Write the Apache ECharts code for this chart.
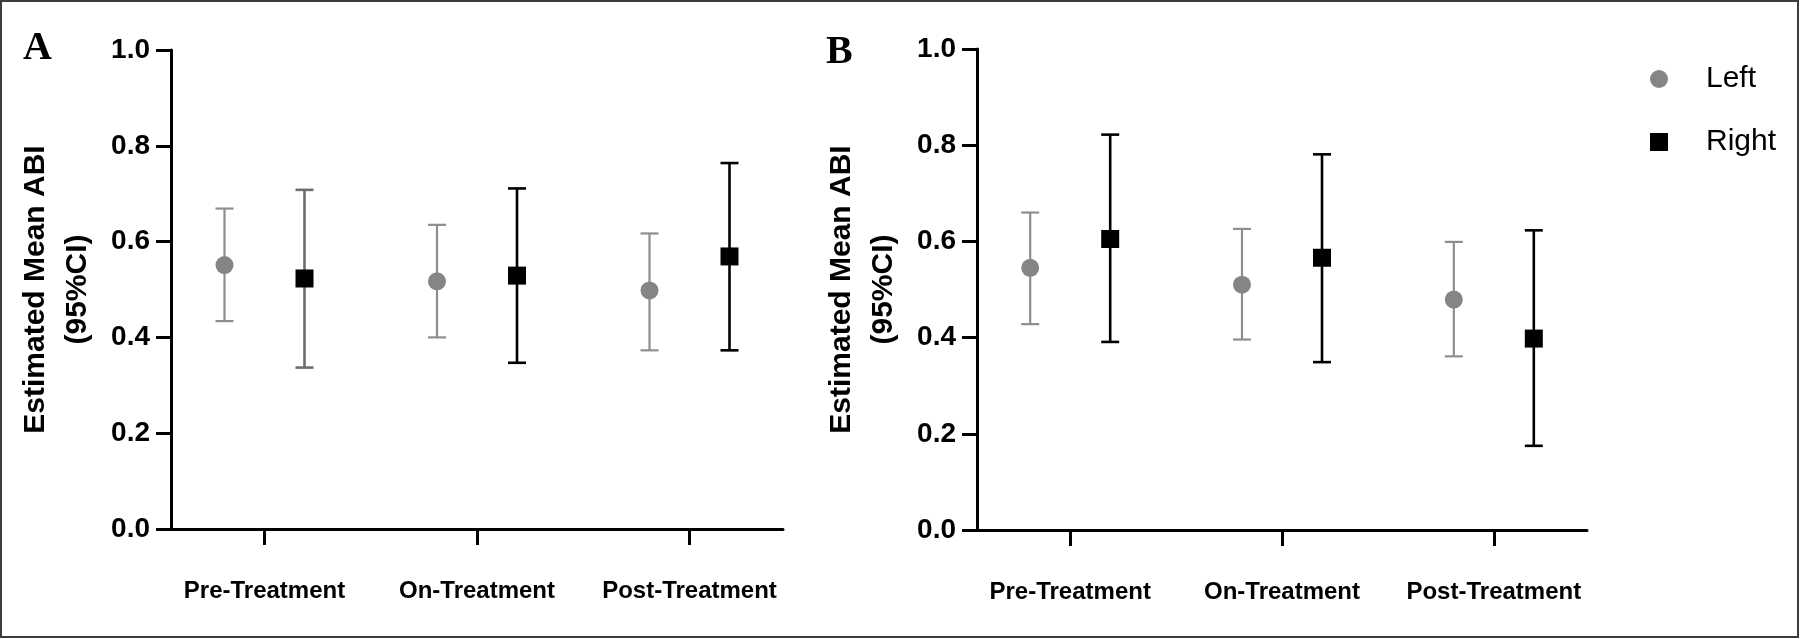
<!DOCTYPE html>
<html>
<head>
<meta charset="utf-8">
<script src="https://cdn.jsdelivr.net/npm/echarts@6/dist/echarts.min.js"></script>
<style>
html,body{margin:0;padding:0;background:#fff;}
#chart{width:1800px;height:639px;}
</style>
</head>
<body>
<div id="chart"></div>
<script>
// ---- data ----
const categories = ['Pre-Treatment', 'On-Treatment', 'Post-Treatment'];
const yTicks = [0, 0.2, 0.4, 0.6, 0.8, 1.0];
// Panel A: mean, lower 95% CI, upper 95% CI
const A_left_mean  = [0.551, 0.517, 0.498];
const A_left_low   = [0.434, 0.400, 0.373];
const A_left_high  = [0.669, 0.635, 0.617];
const A_right_mean = [0.523, 0.529, 0.569];
const A_right_low  = [0.337, 0.347, 0.373];
const A_right_high = [0.708, 0.711, 0.764];
// Panel B
const B_left_mean  = [0.545, 0.510, 0.479];
const B_left_low   = [0.428, 0.396, 0.361];
const B_left_high  = [0.660, 0.626, 0.599];
const B_right_mean = [0.605, 0.566, 0.398];
const B_right_low  = [0.391, 0.349, 0.175];
const B_right_high = [0.822, 0.781, 0.623];

// ---- styles ----
const GREY = '#858585';
const GREY_BAR = '#8e8e8e';
const BLACK = '#000';
const A_RIGHT_BAR_COLORS = ['#6e6e6e', '#000', '#000'];
const B_RIGHT_BAR_COLORS = ['#000', '#000', '#000'];
const DODGE = 40; // px offset of each group from category centre
const FONT = '"Liberation Sans", Arial, Helvetica, sans-serif';

function rows(mean, low, high) {
  return mean.map((m, i) => [i, m, low[i], high[i]]);
}

function makeRender(offset, shape, markerColor, barColors, barWidth) {
  return function (params, api) {
    const i = api.value(0);
    const c = api.coord([i, api.value(1)]);
    const lo = api.coord([i, api.value(2)]);
    const hi = api.coord([i, api.value(3)]);
    const x = c[0] + offset;
    const bc = barColors[params.dataIndex];
    const capHalf = 9;
    const lineStyle = { stroke: bc, lineWidth: barWidth };
    const children = [
      { type: 'line', shape: { x1: x, y1: lo[1], x2: x, y2: hi[1] }, style: lineStyle },
      { type: 'line', shape: { x1: x - capHalf, y1: lo[1], x2: x + capHalf, y2: lo[1] }, style: lineStyle },
      { type: 'line', shape: { x1: x - capHalf, y1: hi[1], x2: x + capHalf, y2: hi[1] }, style: lineStyle }
    ];
    if (shape === 'circle') {
      children.push({ type: 'circle', shape: { cx: x, cy: c[1], r: 9 }, style: { fill: markerColor } });
    } else {
      children.push({ type: 'rect', shape: { x: x - 9, y: c[1] - 9, width: 18, height: 18 }, style: { fill: markerColor } });
    }
    return { type: 'group', children: children };
  };
}

const grids = [
  { left: 171, top: 50, width: 612, height: 479 },
  { left: 977, top: 49, width: 610, height: 481 }
];

function xAxisFor(gi) {
  return {
    type: 'value', gridIndex: gi, min: -0.44, max: 2.44,
    splitLine: { show: false },
    axisLine: { show: true, onZero: false, lineStyle: { color: BLACK, width: 3 } },
    axisTick: { show: true, customValues: [0, 1, 2], length: 16, lineStyle: { color: BLACK, width: 3 } },
    axisLabel: {
      customValues: [0, 1, 2],
      formatter: v => categories[Math.round(v)],
      margin: 50, color: BLACK, fontSize: 24, fontWeight: 'bold', fontFamily: FONT
    }
  };
}
function yAxisFor(gi) {
  return {
    type: 'value', gridIndex: gi, min: yTicks[0], max: yTicks[yTicks.length - 1], interval: 0.2,
    name: 'Estimated Mean ABI\n(95%CI)', nameLocation: 'middle', nameRotate: 90, nameGap: 72,
    nameTextStyle: { color: BLACK, fontSize: 30, fontWeight: 'bold', lineHeight: 42, fontFamily: FONT },
    splitLine: { show: false },
    axisLine: { show: true, onZero: false, lineStyle: { color: BLACK, width: 3 } },
    axisTick: { show: true, length: 15, lineStyle: { color: BLACK, width: 3 } },
    axisLabel: {
      formatter: v => v.toFixed(1), margin: 21, color: BLACK, fontSize: 28, fontWeight: 'bold', fontFamily: FONT
    }
  };
}

function seriesFor(gi, leftRows, rightRows, rightBarColors) {
  return [
    {
      name: 'Left', type: 'custom', xAxisIndex: gi, yAxisIndex: gi,
      itemStyle: { color: GREY },
      renderItem: makeRender(-DODGE, 'circle', GREY, [GREY_BAR, GREY_BAR, GREY_BAR], 2.2),
      encode: { x: 0, y: [1, 2, 3] },
      data: leftRows, z: 3
    },
    {
      name: 'Right', type: 'custom', xAxisIndex: gi, yAxisIndex: gi,
      itemStyle: { color: BLACK },
      renderItem: makeRender(DODGE, 'rect', BLACK, rightBarColors, 2.6),
      encode: { x: 0, y: [1, 2, 3] },
      data: rightRows, z: 3
    }
  ];
}

const chart = echarts.init(document.getElementById('chart'), null, { renderer: 'canvas' });
chart.setOption({
  backgroundColor: '#fff',
  animation: false,
  grid: grids,
  xAxis: [xAxisFor(0), xAxisFor(1)],
  yAxis: [yAxisFor(0), yAxisFor(1)],
  legend: {
    orient: 'vertical', left: 1645, top: 59, itemWidth: 18, itemHeight: 18, itemGap: 33,
    data: [
      { name: 'Left', icon: 'circle', itemStyle: { color: GREY } },
      { name: 'Right', icon: 'rect', itemStyle: { color: BLACK } }
    ],
    textStyle: { color: BLACK, fontSize: 30, padding: [0, 0, 0, 33], fontFamily: FONT }
  },
  graphic: [
    { type: 'rect', shape: { x: 1, y: 1, width: 1797, height: 636 }, style: { fill: null, stroke: '#3c3c3c', lineWidth: 2 }, silent: true },
    { type: 'text', left: 23, top: 29, style: { text: 'A', font: 'bold 40px "Liberation Serif", "Times New Roman", serif', fill: BLACK } },
    { type: 'text', left: 826, top: 33, style: { text: 'B', font: 'bold 40px "Liberation Serif", "Times New Roman", serif', fill: BLACK } }
  ],
  series: [
    ...seriesFor(0, rows(A_left_mean, A_left_low, A_left_high), rows(A_right_mean, A_right_low, A_right_high), A_RIGHT_BAR_COLORS),
    ...seriesFor(1, rows(B_left_mean, B_left_low, B_left_high), rows(B_right_mean, B_right_low, B_right_high), B_RIGHT_BAR_COLORS)
  ]
});
</script>
</body>
</html>
